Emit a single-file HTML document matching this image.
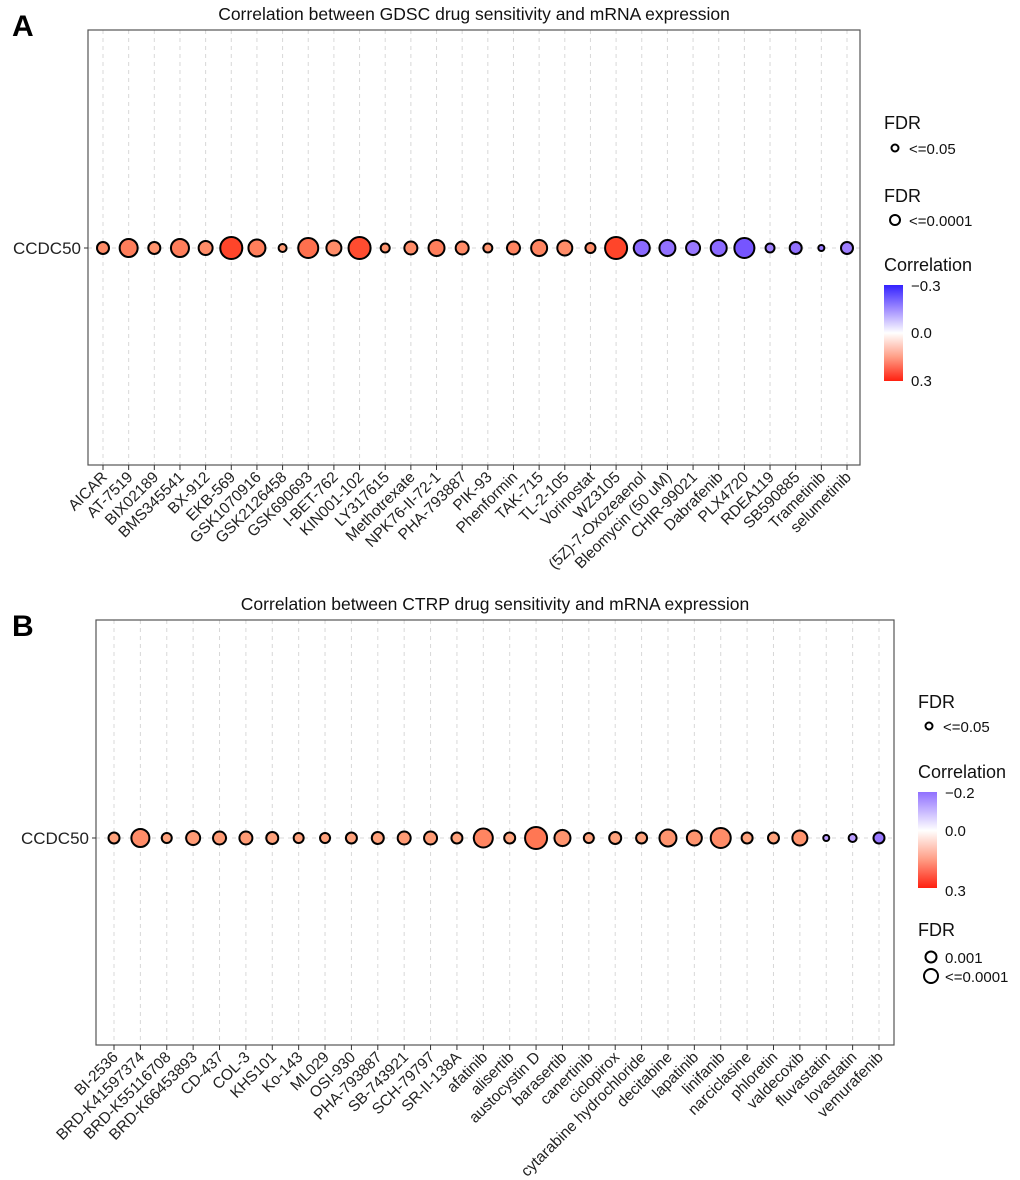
<!DOCTYPE html>
<html><head><meta charset="utf-8">
<style>
body{margin:0;background:#fff;}
svg{display:block;font-family:"Liberation Sans",Arial,sans-serif;}
</style></head>
<body>
<svg id="fig" width="1020" height="1180" viewBox="0 0 1020 1180">
<text x="12" y="36" font-size="30" font-weight="bold">A</text>
<text x="12" y="636" font-size="30" font-weight="bold">B</text>
<g id="pa"></g>
<g id="pb"></g>
</svg>
<script>
const drugsA = ["AICAR","AT-7519","BIX02189","BMS345541","BX-912","EKB-569","GSK1070916","GSK2126458","GSK690693","I-BET-762","KIN001-102","LY317615","Methotrexate","NPK76-II-72-1","PHA-793887","PIK-93","Phenformin","TAK-715","TL-2-105","Vorinostat","WZ3105","(5Z)-7-Oxozeaenol","Bleomycin (50 uM)","CHIR-99021","Dabrafenib","PLX4720","RDEA119","SB590885","Trametinib","selumetinib"];
const corrA = [0.16,0.18,0.15,0.18,0.16,0.26,0.18,0.14,0.2,0.16,0.25,0.15,0.16,0.18,0.16,0.15,0.17,0.17,0.16,0.16,0.26,-0.17,-0.16,-0.15,-0.17,-0.2,-0.14,-0.16,-0.15,-0.14];
const sizeA = [6,9,6,9,7,11,8.5,4,10,7.5,11,4.5,6.5,8,6.5,4.5,6.5,8,7.5,5,11,8,8,7,8,10,4.5,6,3,6];
const drugsB = ["BI-2536","BRD-K41597374","BRD-K55116708","BRD-K66453893","CD-437","COL-3","KHS101","Ko-143","ML029","OSI-930","PHA-793887","SB-743921","SCH-79797","SR-II-138A","afatinib","alisertib","austocystin D","barasertib","canertinib","ciclopirox","cytarabine hydrochloride","decitabine","lapatinib","linifanib","narciclasine","phloretin","valdecoxib","fluvastatin","lovastatin","vemurafenib"];
const corrB = [0.13,0.16,0.13,0.14,0.14,0.14,0.13,0.13,0.13,0.13,0.13,0.14,0.14,0.13,0.17,0.13,0.19,0.15,0.13,0.13,0.13,0.15,0.15,0.16,0.13,0.13,0.15,-0.1,-0.1,-0.15];
const sizeB = [5.5,9,5,7,6.5,6.5,6,5,5,5.5,6,6.5,6.5,5.5,9.5,5.5,11,8,5,6,5.5,8.5,7.5,10,5.5,5.5,7.5,3,4,5.5];

const NS="http://www.w3.org/2000/svg";
function mk(p,t,a){const e=document.createElementNS(NS,t);for(const k in a)e.setAttribute(k,a[k]);p.appendChild(e);return e;}
function lerp(a,b,t){return Math.round(a+(b-a)*t);}
function colorOf(v,lo,hi){
  if(v>=0){const t=Math.min(v/hi,1);return `rgb(255,${lerp(255,40,t)},${lerp(255,20,Math.pow(t,0.7))})`;}
  const t=Math.min(-v/-lo,1);return `rgb(${lerp(255,50,t)},${lerp(255,20,Math.pow(t,0.8))},255)`;
}
function panel(g,cfg){
  const {x0,x1,y0,y1,first,last,rowY,drugs,corr,size,title,lo,hi}=cfg;
  const step=(last-first)/(drugs.length-1);
  const xs=i=>first+i*step;
  mk(g,"text",{x:(x0+x1)/2,y:y0-10,"font-size":17.5,"text-anchor":"middle",fill:"#111",}).textContent=title;
  const grid=mk(g,"g",{});
  drugs.forEach((d,i)=>{mk(grid,"line",{x1:xs(i),x2:xs(i),y1:y0,y2:y1,stroke:"#d8d8d8","stroke-dasharray":"4,4","stroke-width":1});});
  mk(grid,"line",{x1:x0,x2:x1,y1:rowY,y2:rowY,stroke:"#d8d8d8","stroke-dasharray":"4,4"});
  mk(g,"rect",{x:x0,y:y0,width:x1-x0,height:y1-y0,fill:"none",stroke:"#555","stroke-width":1.2,});
  mk(g,"line",{x1:x0-4,x2:x0,y1:rowY,y2:rowY,stroke:"#333"});
  const yl=mk(g,"text",{x:x0-7,y:rowY+6,"font-size":17,"text-anchor":"end",fill:"#222"});
  
  
  yl.textContent="CCDC50";
  drugs.forEach((d,i)=>{
    const x=xs(i);
    mk(g,"line",{x1:x,x2:x,y1:y1,y2:y1+5,stroke:"#333"});
    const t=mk(g,"text",{x:x+5,y:y1+13,"font-size":15.5,"text-anchor":"end",fill:"#222",transform:`rotate(-45 ${x+5} ${y1+13})`});
    
    
    t.textContent=d;
    const c=mk(g,"circle",{cx:x,cy:rowY,r:size[i],fill:colorOf(corr[i],lo,hi),stroke:"#000","stroke-width":2});
    
    
  });
}
panel(document.getElementById("pa"),{x0:88,x1:860,y0:30,y1:465,first:103,last:847,rowY:248,drugs:drugsA,corr:corrA,size:sizeA,title:"Correlation between GDSC drug sensitivity and mRNA expression",lo:-0.3,hi:0.3});
panel(document.getElementById("pb"),{x0:96,x1:894,y0:620,y1:1045,first:114,last:879,rowY:838,drugs:drugsB,corr:corrB,size:sizeB,title:"Correlation between CTRP drug sensitivity and mRNA expression",lo:-0.3,hi:0.3});

const svg=document.getElementById("fig");
const defs=mk(svg,"defs",{});
defs.innerHTML='<linearGradient id="gA" x1="0" y1="0" x2="0" y2="1"><stop offset="0" stop-color="#3322ff"/><stop offset="0.25" stop-color="#a08cff"/><stop offset="0.5" stop-color="#ffffff"/><stop offset="0.75" stop-color="#ff9e86"/><stop offset="1" stop-color="#ff2010"/></linearGradient><linearGradient id="gB" x1="0" y1="0" x2="0" y2="1"><stop offset="0" stop-color="#9070ff"/><stop offset="0.4" stop-color="#ffffff"/><stop offset="0.7" stop-color="#ff9e86"/><stop offset="1" stop-color="#ff2010"/></linearGradient>';
const lg=mk(svg,"g",{});
lg.innerHTML=`
<g fill="#111">
<text x="884" y="129" font-size="18">FDR</text>
<circle cx="895" cy="148" r="3.5" fill="none" stroke="#000" stroke-width="2"/><text x="909" y="154" font-size="15">&lt;=0.05</text>
<text x="884" y="202" font-size="18">FDR</text>
<circle cx="895" cy="220" r="5" fill="none" stroke="#000" stroke-width="2"/><text x="909" y="226" font-size="15">&lt;=0.0001</text>
<text x="884" y="271" font-size="18">Correlation</text>
<rect x="884" y="285" width="19" height="96" fill="url(#gA)"/>
<text x="911" y="291" font-size="15">−0.3</text><text x="911" y="338" font-size="15">0.0</text><text x="911" y="386" font-size="15">0.3</text>
</g>
<g fill="#111">
<text x="918" y="708" font-size="18">FDR</text>
<circle cx="929" cy="726" r="3.5" fill="none" stroke="#000" stroke-width="2"/><text x="943" y="732" font-size="15">&lt;=0.05</text>
<text x="918" y="778" font-size="18">Correlation</text>
<rect x="918" y="792" width="19" height="96" fill="url(#gB)"/>
<text x="945" y="798" font-size="15">−0.2</text><text x="945" y="836" font-size="15">0.0</text><text x="945" y="896" font-size="15">0.3</text>
<text x="918" y="936" font-size="18">FDR</text>
<circle cx="931" cy="957" r="5.5" fill="none" stroke="#000" stroke-width="2"/><text x="945" y="963" font-size="15">0.001</text>
<circle cx="931" cy="976" r="7" fill="none" stroke="#000" stroke-width="2"/><text x="945" y="982" font-size="15">&lt;=0.0001</text>
</g>`;
</script>
</body></html>
